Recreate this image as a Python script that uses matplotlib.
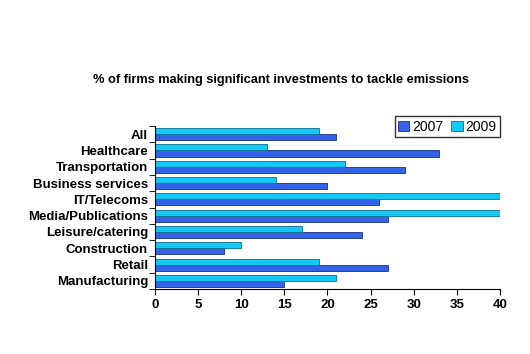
import matplotlib.pyplot as plt
import numpy as np

# datos
categorias = ["All", "Healthcare", "Transportation", "Business services",
              "IT/Telecoms", "Media/Publications", "Leisure/catering",
              "Construction", "Retail", "Manufacturing"]
v2007 = [21, 33, 29, 20, 26, 27, 24, 8, 27, 15]
v2009 = [19, 13, 22, 14, 40, 40, 17, 10, 19, 21]
ticks_x = [0, 5, 10, 15, 20, 25, 30, 35, 40]

plt.rcParams['font.family'] = ['Liberation Sans', 'DejaVu Sans']

fig = plt.figure(figsize=(5.3, 3.54), dpi=100)
ax = fig.add_axes([0.2925, 0.1836, 0.6505, 0.4604])

y = np.arange(len(categorias))[::-1]
h = 0.37
ax.barh(y - h / 2, v2007, height=h, color="#3563e8", edgecolor="#1a2f80",
        linewidth=0.6, label="2007")
ax.barh(y + h / 2, v2009, height=h, color="#14c8f4", edgecolor="#0a7090",
        linewidth=0.6, label="2009")

ax.set_xlim(0, 40)
ax.set_ylim(-0.5, len(categorias) - 0.5)
ax.set_xticks(ticks_x)
ax.set_yticks(y)
ax.set_yticklabels(categorias)
ax.set_yticks(np.arange(-0.5, len(categorias)), minor=True)
ax.tick_params(axis='y', which='major', length=0, pad=5)
ax.tick_params(axis='y', which='minor', length=4, direction='out')
ax.tick_params(axis='x', length=4, direction='out')
for lab in ax.get_xticklabels() + ax.get_yticklabels():
    lab.set_fontweight('bold')
    lab.set_fontsize(9.5)

ax.spines['top'].set_visible(False)
ax.spines['right'].set_visible(False)

fig.text(0.53, 0.775, "% of firms making significant investments to tackle emissions",
         ha='center', va='center', fontsize=9.2, fontweight='bold')

leg = ax.legend(loc='upper right', bbox_to_anchor=(1.0, 1.06), ncol=2,
                frameon=True, fancybox=False, edgecolor='black',
                fontsize=10, handlelength=0.8, handleheight=0.8,
                handletextpad=0.2, columnspacing=0.6, borderpad=0.25,
                borderaxespad=0)
leg.get_frame().set_linewidth(1.0)

plt.savefig("out.png", dpi=100)
